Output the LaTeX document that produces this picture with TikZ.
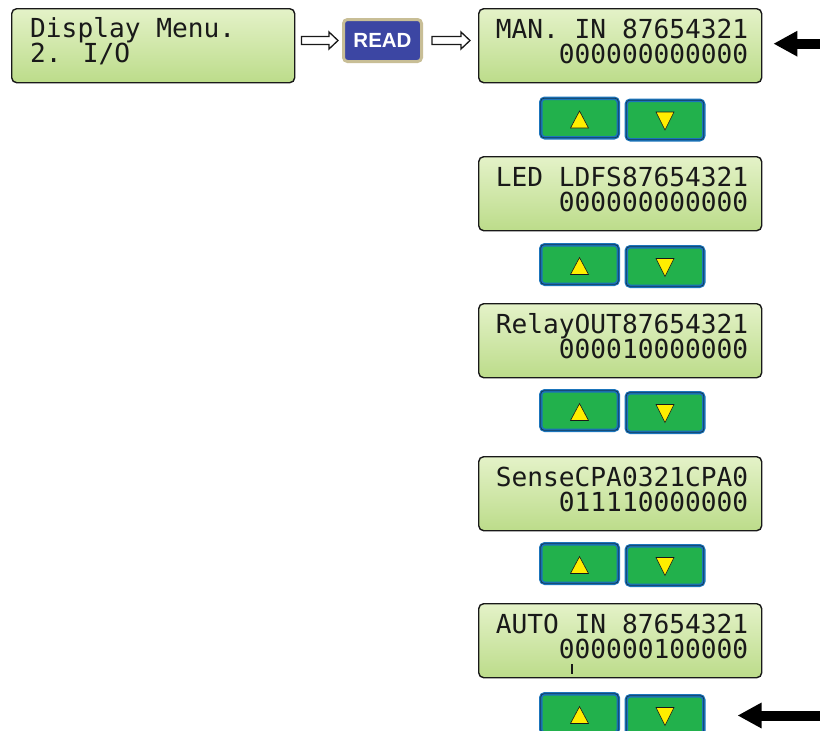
\documentclass[tikz,border=0pt]{standalone}
\usepackage{fontspec}
\setmainfont{Liberation Sans}
\newfontfamily\lcdfont{DejaVu Sans Mono}
\usetikzlibrary{calc,arrows.meta}
\definecolor{lcdtop}{RGB}{228,242,200}
\definecolor{lcdbot}{RGB}{188,220,138}
\definecolor{btngreen}{RGB}{34,177,76}
\definecolor{btnblue}{RGB}{27,117,188}
\definecolor{btndark}{RGB}{20,55,85}
\definecolor{readblue}{RGB}{60,70,163}
\definecolor{readedge}{RGB}{200,190,150}
\definecolor{triyellow}{RGB}{255,238,0}
\definecolor{ink}{RGB}{25,25,25}
\tikzset{
  lcdbox/.style={draw=ink, line width=1.4pt, rounded corners=5pt, top color=lcdtop,
    bottom color=lcdbot, minimum width=283pt, minimum height=74pt, anchor=north west, inner sep=0pt},
  lcdline/.style={font=\lcdfont\fontsize{26.2}{26.2}\selectfont, text=ink, inner sep=0pt},
  btn/.style={draw=btnblue, line width=3.5pt, fill=btngreen, rounded corners=4pt,
    minimum width=77.5pt, minimum height=39.5pt, anchor=north west, inner sep=0pt},
  btninner/.style={draw=btndark, line width=0.8pt, rounded corners=3pt},
  tri/.style={fill=triyellow, draw=ink, line width=0.6pt, line join=miter},
  readbtn/.style={draw=readedge, line width=3pt, fill=readblue, rounded corners=4pt,
    minimum width=78pt, minimum height=42pt, inner sep=0pt, text=white,
    font=\bfseries\fontsize{20.5}{20.5}\selectfont},
  hollow/.style={draw=ink, line width=1.3pt, fill=white, line join=miter},
  bigarrow/.style={draw=black, line width=10pt, -{Triangle[length=24pt,width=24pt]}}
}
\newcommand\hollowarrow[2]{%
  \draw[hollow] let \p1=(#1), \p2=(#2) in
   (\x1,\y1+4pt) -- (\x2-9pt,\y1+4pt) -- (\x2-9pt,\y1+8.5pt) -- (\x2,\y1)
   -- (\x2-9pt,\y1-8.5pt) -- (\x2-9pt,\y1-4pt) -- (\x1,\y1-4pt) -- cycle;}
\newcommand\lcdrow[5]{%
  \node[lcdbox] (box#1) at (478,#2+1) {};
  \node[lcdline, anchor=base east] (box#1a) at ($(box#1.north east)+(-14,30)$) {#4};
  \node[lcdline, anchor=base east] (box#1b) at ($(box#1.north east)+(-14,55)$) {#5};
  \node[btn] (up#1) at (539,#3) {};
  \node[btn] (dn#1) at (624.5,#3+2) {};
  \draw[btninner] ([shift={(1.8,1.8)}]up#1.north west) rectangle ([shift={(-1.8,-1.8)}]up#1.south east);
  \draw[btninner] ([shift={(1.8,1.8)}]dn#1.north west) rectangle ([shift={(-1.8,-1.8)}]dn#1.south east);
  \draw[tri] ($(up#1.center)+(-9,10)$) -- ++(18,0) -- ++(-9,-17) -- cycle;
  \draw[tri] ($(dn#1.center)+(-9,-8)$) -- ++(18,0) -- ++(-9,18) -- cycle;
}
\begin{document}
\begin{tikzpicture}[x=1pt,y=-1pt]
\useasboundingbox (0,0) rectangle (820,731);
\clip (0,0) rectangle (820,731);
\fill[white] (0,0) rectangle (820,731);
% menu box
\node[lcdbox] (menu) at (11,8) {};
\node[lcdline, anchor=base west] (menua) at ($(menu.north west)+(19,29)$) {Display Menu.};
\node[lcdline, anchor=base west] (menub) at ($(menu.north west)+(19,54)$) {2. I/O};
% READ button
\node[readbtn] (read) at (382.5,40.5) {READ};
% rows
\lcdrow{1}{7}{96.5}{MAN. IN 87654321}{000000000000}
\lcdrow{2}{155}{243}{LED LDFS87654321}{000000000000}
\lcdrow{3}{302}{389}{RelayOUT87654321}{000010000000}
\lcdrow{4}{455}{542}{SenseCPA0321CPA0}{011110000000}
\lcdrow{5}{602}{692}{AUTO IN 87654321}{000000100000}
% cursor
\draw[ink, line width=1.2pt] ($(box5.north west)+(94,61)$) -- ++(0,10);
% hollow arrows
\coordinate (h1s) at ($(menu.east |- read.west)+(6,0)$);
\coordinate (h1e) at ($(read.west)+(-4,0)$);
\coordinate (h2s) at ($(read.east)+(9,0)$);
\coordinate (h2e) at ($(box1.west |- read.east)+(-8,0)$);
\hollowarrow{h1s}{h1e}
\hollowarrow{h2s}{h2e}
% black arrows
\coordinate (tip1) at ($(box1.east)+(11,-2)$);
\coordinate (tip2) at ($(dn5.east)+(32,0)$);
\coordinate (edge) at (822,0);
\draw[bigarrow] (tip1 -| edge) -- (tip1);
\draw[bigarrow] (tip2 -| edge) -- (tip2);
\end{tikzpicture}
\end{document}
